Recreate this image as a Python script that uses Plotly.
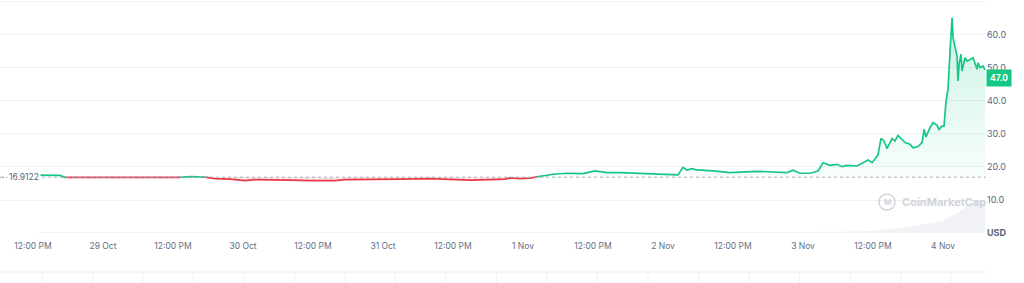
import plotly.graph_objects as go
import pandas as pd

# ---------------- data ----------------
times = [
    "2023-10-28 12:41", "2023-10-28 14:55", "2023-10-28 16:38", "2023-10-28 17:29",
    "2023-10-28 20:03", "2023-10-28 23:29", "2023-10-29 02:55", "2023-10-29 06:21",
    "2023-10-29 09:46", "2023-10-29 13:12", "2023-10-29 14:55", "2023-10-29 17:29",
    "2023-10-29 19:12", "2023-10-29 21:46", "2023-10-30 00:21", "2023-10-30 02:03",
    "2023-10-30 05:29", "2023-10-30 08:03", "2023-10-30 11:29", "2023-10-30 15:46",
    "2023-10-30 17:29", "2023-10-30 21:46", "2023-10-31 02:55", "2023-10-31 08:03",
    "2023-10-31 13:12", "2023-10-31 14:55", "2023-10-31 18:21", "2023-10-31 20:55",
    "2023-10-31 21:46", "2023-10-31 23:29", "2023-11-01 01:12", "2023-11-01 02:24",
    "2023-11-01 03:46", "2023-11-01 05:09", "2023-11-01 07:33", "2023-11-01 10:17",
    "2023-11-01 12:21", "2023-11-01 14:24", "2023-11-01 16:38", "2023-11-01 20:03",
    "2023-11-02 02:34", "2023-11-02 03:26", "2023-11-02 04:07", "2023-11-02 04:58",
    "2023-11-02 05:50", "2023-11-02 08:34", "2023-11-02 11:29", "2023-11-02 16:07",
    "2023-11-02 21:15", "2023-11-02 22:17", "2023-11-02 23:29", "2023-11-03 01:12",
    "2023-11-03 02:34", "2023-11-03 03:26", "2023-11-03 04:38", "2023-11-03 05:50",
    "2023-11-03 06:41", "2023-11-03 07:33", "2023-11-03 09:15", "2023-11-03 11:09",
    "2023-11-03 11:50", "2023-11-03 12:51", "2023-11-03 13:22", "2023-11-03 13:53",
    "2023-11-03 14:24", "2023-11-03 15:15", "2023-11-03 15:46", "2023-11-03 16:17",
    "2023-11-03 16:58", "2023-11-03 17:29", "2023-11-03 18:21", "2023-11-03 18:51",
    "2023-11-03 19:43", "2023-11-03 20:24", "2023-11-03 20:45", "2023-11-03 21:05",
    "2023-11-03 21:46", "2023-11-03 22:17", "2023-11-03 22:58", "2023-11-03 23:19",
    "2023-11-03 23:50", "2023-11-04 00:10", "2023-11-04 00:31", "2023-11-04 00:51",
    "2023-11-04 01:12", "2023-11-04 01:33", "2023-11-04 01:43", "2023-11-04 02:03",
    "2023-11-04 02:24", "2023-11-04 02:34", "2023-11-04 02:45", "2023-11-04 03:05",
    "2023-11-04 03:15", "2023-11-04 03:46", "2023-11-04 04:07", "2023-11-04 04:38",
    "2023-11-04 05:09", "2023-11-04 05:50", "2023-11-04 06:00", "2023-11-04 06:21",
    "2023-11-04 06:51", "2023-11-04 07:12",
]
prices = [
    17.55, 17.6, 17.45, 16.85,
    16.8, 16.8, 16.85, 16.85,
    16.95, 16.85, 17.1, 16.95,
    16.5, 16.35, 15.9, 16.2,
    16.2, 16.05, 15.9, 15.9,
    16.2, 16.2, 16.35, 16.5,
    16.2, 16.0, 16.2, 16.35,
    16.7, 16.5, 16.65, 17.0,
    17.4, 17.8, 18.1, 18.0,
    18.8, 18.3, 18.3, 18.0,
    17.6, 19.9, 19.1, 19.5,
    19.1, 18.8, 18.3, 18.7,
    18.3, 19.0, 18.1, 18.1,
    18.8, 21.3, 20.5, 20.8,
    20.1, 20.5, 20.3, 22.1,
    21.3, 23.6, 28.7, 27.9,
    25.6, 28.6, 27.9, 29.6,
    28.5, 27.4, 26.9, 25.8,
    26.2, 27.4, 31.4, 29.1,
    31.9, 33.4, 32.7, 31.4,
    32.4, 32.4, 40.0, 43.5,
    55.0, 65.2, 59.2, 56.2,
    53.6, 46.1, 51.1, 54.2,
    49.1, 53.1, 52.1, 52.6,
    53.1, 49.6, 51.6, 50.1,
    50.6, 49.4,
]
REF_PRICE = 16.9122
LAST_PRICE = 47.0

vol_times = [
    "2023-10-28 12:41", "2023-10-29 00:00", "2023-10-29 12:00", "2023-10-30 00:00",
    "2023-10-30 12:00", "2023-10-31 00:00", "2023-10-31 12:00", "2023-11-01 00:00",
    "2023-11-01 12:00", "2023-11-02 00:00", "2023-11-02 12:00", "2023-11-03 00:00",
    "2023-11-03 06:00", "2023-11-03 12:00", "2023-11-03 18:00", "2023-11-04 00:00",
    "2023-11-04 02:24", "2023-11-04 04:38", "2023-11-04 05:30", "2023-11-04 07:12",
]
vol_vals = [2, 2, 2, 2, 2, 2, 2, 2, 3, 3, 3, 3, 4, 6, 18, 36, 60, 88, 97, 100]

x_tick_times = [
    "2023-10-28 12:00", "2023-10-29 00:00", "2023-10-29 12:00", "2023-10-30 00:00",
    "2023-10-30 12:00", "2023-10-31 00:00", "2023-10-31 12:00", "2023-11-01 00:00",
    "2023-11-01 12:00", "2023-11-02 00:00", "2023-11-02 12:00", "2023-11-03 00:00",
    "2023-11-03 12:00", "2023-11-04 00:00",
]
x_tick_text = [
    "12:00 PM", "29 Oct", "12:00 PM", "30 Oct", "12:00 PM", "31 Oct", "12:00 PM",
    "1 Nov", "12:00 PM", "2 Nov", "12:00 PM", "3 Nov", "12:00 PM", "4 Nov",
]
y_tick_vals = [0, 10, 20, 30, 40, 50, 60, 70]
y_tick_text = ["<b>USD</b>", "10.0", "20.0", "30.0", "40.0", "50.0", "60.0", ""]

# ---------------- figure ----------------
GREEN = "#16c784"
RED = "#ea3943"
FONT = "Inter"

t = pd.to_datetime(times)
n = len(prices)
fig = go.Figure()

# volume (light area at the bottom)
fig.add_trace(go.Scatter(
    x=pd.to_datetime(vol_times), y=vol_vals, yaxis="y2", mode="none",
    fill="tozeroy", fillcolor="rgba(222,226,234,0.45)", hoverinfo="skip",
    showlegend=False,
))

# green fill above reference
fig.add_trace(go.Scatter(x=t, y=[REF_PRICE] * n, mode="lines", line=dict(width=0),
                         hoverinfo="skip", showlegend=False))
fig.add_trace(go.Scatter(
    x=t, y=[max(p, REF_PRICE) for p in prices], mode="none", fill="tonexty",
    fillgradient=dict(type="vertical",
                      colorscale=[[0, "rgba(22,199,132,0.03)"], [1, "rgba(22,199,132,0.22)"]]),
    hoverinfo="skip", showlegend=False,
))
# red fill below reference
fig.add_trace(go.Scatter(x=t, y=[REF_PRICE] * n, mode="lines", line=dict(width=0),
                         hoverinfo="skip", showlegend=False))
fig.add_trace(go.Scatter(
    x=t, y=[min(p, REF_PRICE) for p in prices], mode="none", fill="tonexty",
    fillcolor="rgba(234,57,67,0.14)", hoverinfo="skip", showlegend=False,
))

# coloured line segments
segs = []
cur_color, cur = None, []
for i in range(n - 1):
    c = GREEN if (prices[i] + prices[i + 1]) / 2 >= REF_PRICE else RED
    if c != cur_color:
        if cur:
            segs.append((cur_color, cur))
        cur, cur_color = [i], c
    cur.append(i + 1)
segs.append((cur_color, cur))
for c, idx in segs:
    fig.add_trace(go.Scatter(
        x=[t[j] for j in idx], y=[prices[j] for j in idx], mode="lines",
        line=dict(color=c, width=1.7), showlegend=False,
    ))

W, H = 1024, 283
L, R, T, B = 0, 38, 0, 50
pw, ph = W - L - R, H - T - B

def px(xp):
    return xp / pw

def py(yp):
    return (ph - yp) / ph

shapes = [
    dict(type="line", xref="paper", yref="y", x0=0, x1=1, y0=REF_PRICE, y1=REF_PRICE,
         line=dict(color="#a6adbd", width=1, dash="dot"), layer="above"),
    # watermark logo circle
    dict(type="circle", xref="paper", yref="paper", x0=px(879), x1=px(895),
         y0=py(210), y1=py(194), line=dict(color="#d0d4db", width=1.5)),
    # navigator strip
    dict(type="line", xref="paper", yref="paper", x0=0, x1=1, y0=py(272), y1=py(272),
         line=dict(color="#eef0f3", width=1)),
]
for k in range(19):
    xv = 42 + 50.5 * k
    if xv < pw:
        shapes.append(dict(type="line", xref="paper", yref="paper", x0=px(xv), x1=px(xv),
                           y0=py(272), y1=py(283), line=dict(color="#f1f2f5", width=1)))

annotations = [
    dict(xref="paper", yref="y", x=px(7), y=REF_PRICE, xanchor="left", yanchor="middle",
         text="16.9122", showarrow=False, font=dict(family=FONT, size=8.5, color="#58667e"),
         bgcolor="white"),
    dict(xref="paper", yref="y", x=px(3), y=REF_PRICE, xanchor="center", yanchor="middle",
         text="·", showarrow=False, font=dict(family=FONT, size=9, color="#58667e")),
    dict(xref="paper", yref="y", x=1.0, y=LAST_PRICE, xanchor="left", yanchor="middle",
         text="<b>%.1f</b>" % LAST_PRICE, showarrow=False, bgcolor=GREEN, borderpad=3,
         font=dict(family=FONT, size=8.5, color="white")),
    dict(xref="paper", yref="paper", x=px(900), y=py(202), xanchor="left", yanchor="middle",
         text="<b>CoinMarketCap</b>", showarrow=False,
         font=dict(family=FONT, size=11, color="#d0d4db")),
    dict(xref="paper", yref="paper", x=px(887), y=py(202), xanchor="center", yanchor="middle",
         text="<b>M</b>", showarrow=False, font=dict(family=FONT, size=8, color="#d0d4db")),
]

fig.update_layout(
    width=W, height=H,
    margin=dict(l=L, r=R, t=T, b=B),
    paper_bgcolor="white", plot_bgcolor="white",
    font=dict(family=FONT),
    showlegend=False,
    xaxis=dict(
        type="date",
        range=["2023-10-28 06:21", "2023-11-04 07:22"],
        tickmode="array", tickvals=pd.to_datetime(x_tick_times), ticktext=x_tick_text,
        showgrid=False, zeroline=False, showline=False,
        ticks="outside", ticklen=5, tickcolor="rgba(0,0,0,0)",
        tickfont=dict(family=FONT, size=8.5, color="#616e85"),
    ),
    yaxis=dict(
        side="right", range=[0, 70.6],
        tickmode="array", tickvals=y_tick_vals, ticktext=y_tick_text,
        showgrid=True, gridcolor="#f0f1f4", gridwidth=1, zeroline=False, showline=False,
        tickfont=dict(family=FONT, size=9, color="#58667e"),
    ),
    yaxis2=dict(overlaying="y", range=[0, 700], visible=False, showgrid=False),
    shapes=shapes,
    annotations=annotations,
)

fig.write_html("out.html")
